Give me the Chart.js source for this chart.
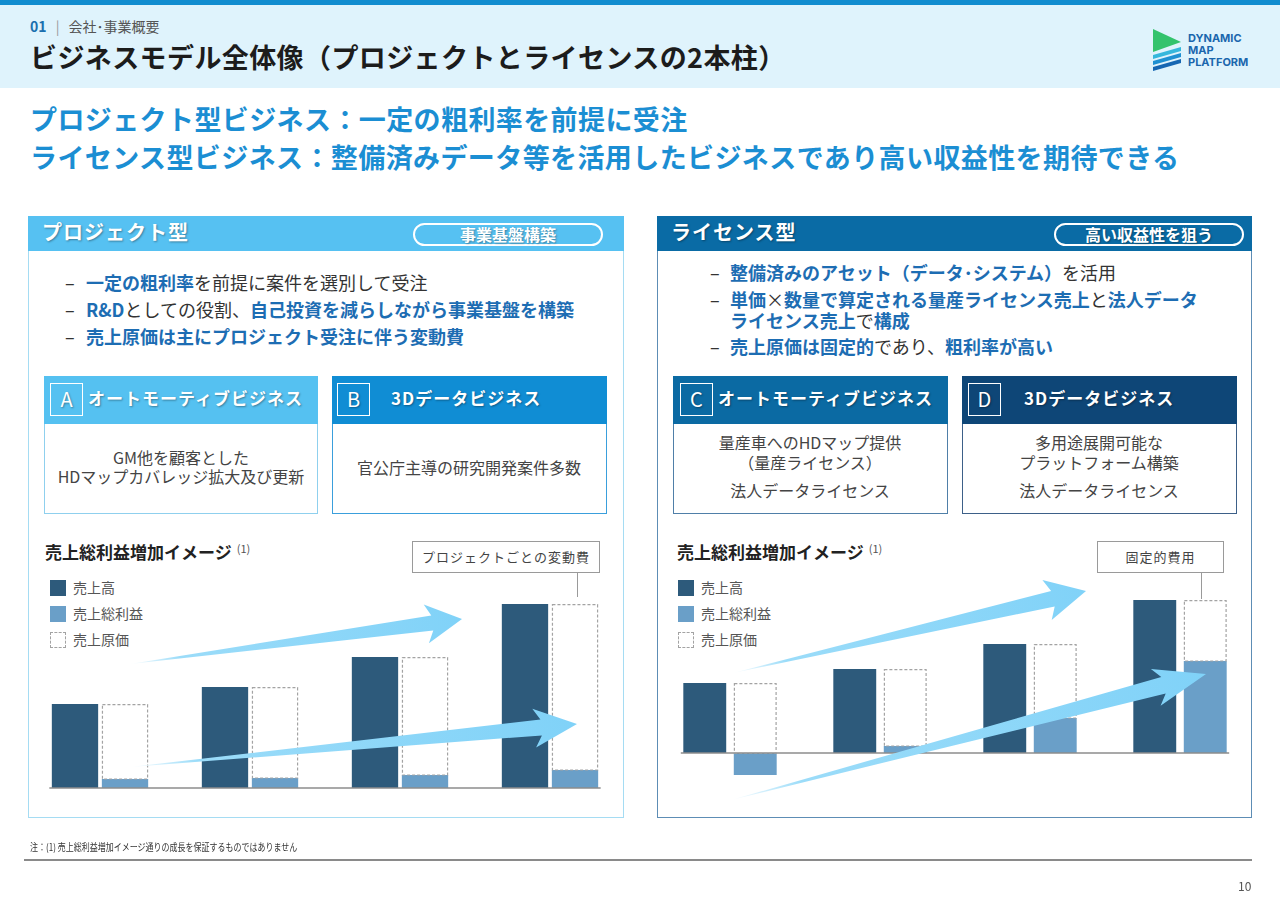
<!DOCTYPE html>
<html lang="ja">
<head>
<meta charset="utf-8">
<title>ビジネスモデル全体像</title>
<script src="https://cdn.jsdelivr.net/npm/chart.js@4.4.0/dist/chart.umd.min.js"></script>
<style>
  html, body { margin: 0; padding: 0; }
  body {
    width: 1280px; height: 904px; position: relative; overflow: hidden; background: #fff;
    font-family: 'Noto Sans CJK JP', 'Noto Sans', sans-serif; color: #333;
  }
  .abs { position: absolute; line-height: 1; white-space: nowrap; }
  .box { position: absolute; box-sizing: border-box; }
  .b { color: #1d6db3; font-weight: 700; }
  .hd { color: #fff; font-weight: 700; text-shadow: 1px 1px 2px rgba(0, 0, 0, 0.35); }
  .pill {
    position: absolute; box-sizing: border-box; height: 23px; border: 2px solid #fff; border-radius: 12px;
    color: #fff; font-weight: 700; font-size: 16px; line-height: 19px; text-align: center;
    text-shadow: 1px 1px 2px rgba(0, 0, 0, 0.35);
  }
  .letter {
    position: absolute; box-sizing: border-box; width: 33px; height: 33px; border: 1.5px solid #fff;
    color: #fff; font-size: 20px; line-height: 30px; text-align: center; top: 383px;
    text-shadow: 1px 1px 2px rgba(0, 0, 0, 0.35);
  }
  .ctitle { font-size: 17px; letter-spacing: 1px; top: 389px; }
  .body { font-size: 16px; color: #444; text-align: center; width: 274px; }
  .legend-item { position: absolute; font-size: 14px; color: #555; line-height: 1; }
  .sw { position: absolute; width: 16px; height: 16px; box-sizing: border-box; }
  .callout {
    position: absolute; box-sizing: border-box; height: 32px; border: 1px solid #9a9a9a; background: #fff;
    font-size: 13px; color: #444; line-height: 30px; text-align: center; letter-spacing: 1px;
  }
  .wrap { position: absolute; width: 600px; height: 200px; }
</style>
</head>
<body>

<!-- header -->
<div class="box" style="left:0;top:0;width:1280px;height:5px;background:#118ccf"></div>
<div class="box" style="left:0;top:5px;width:1280px;height:83px;background:#dff3fc"></div>
<div class="abs" style="left:30px;top:19px;font-size:14px;">
  <span style="color:#1a6fae;font-weight:700">01</span>
  <span style="color:#999;margin:0 6px">|</span>
  <span style="color:#555">会社･事業概要</span>
</div>
<div class="abs" style="left:30px;top:43px;font-size:27px;letter-spacing:0.4px;font-weight:700;color:#1c1c1c">ビジネスモデル全体像（プロジェクトとライセンスの2本柱）</div>

<svg class="abs" style="left:1150px;top:26px" width="110" height="46" viewBox="1150 26 110 46">
  <polygon points="1153,29 1181,42 1153,52" fill="#33c36c"/>
  <polygon points="1153,55 1181,47 1181,51 1153,59" fill="#35b7dc"/>
  <polygon points="1153,61 1181,53 1181,57 1153,65" fill="#1e90d2"/>
  <polygon points="1153,67 1181,59 1181,63 1153,71" fill="#1666b2"/>
  <text x="1188" y="42" font-family="Inter, Lato, sans-serif" font-weight="700" font-size="11" fill="#1a66ad">DYNAMIC</text>
  <text x="1188" y="54" font-family="Inter, Lato, sans-serif" font-weight="700" font-size="11" fill="#1a66ad">MAP</text>
  <text x="1188" y="66" font-family="Inter, Lato, sans-serif" font-weight="700" font-size="11" fill="#1a66ad">PLATFORM</text>
</svg>

<div class="abs" style="left:30px;top:105px;font-size:27px;letter-spacing:0.4px;font-weight:700;color:#1b8ed3">プロジェクト型ビジネス：一定の粗利率を前提に受注</div>
<div class="abs" style="left:30px;top:143px;font-size:27px;letter-spacing:0.4px;font-weight:700;color:#1b8ed3">ライセンス型ビジネス：整備済みデータ等を活用したビジネスであり高い収益性を期待できる</div>

<!-- left panel -->
<div class="box" style="left:28px;top:216px;width:596px;height:602px;border:1.5px solid #a5dcf3"></div>
<div class="box" style="left:28px;top:216px;width:596px;height:35px;background:#56c1f2"></div>
<div class="abs hd" style="left:42px;top:222px;font-size:20px;letter-spacing:1px">プロジェクト型</div>
<div class="pill" style="left:413px;top:223px;width:190px">事業基盤構築</div>

<div class="abs" style="left:65px;top:273px;font-size:18px">–</div>
<div class="abs" style="left:86px;top:273px;font-size:18px"><span class="b">一定の粗利率</span>を前提に案件を選別して受注</div>
<div class="abs" style="left:65px;top:299.5px;font-size:18px">–</div>
<div class="abs" style="left:86px;top:299.5px;font-size:18px"><span class="b">R&amp;D</span>としての役割、<span class="b">自己投資を減らしながら事業基盤を構築</span></div>
<div class="abs" style="left:65px;top:326.5px;font-size:18px">–</div>
<div class="abs" style="left:86px;top:326.5px;font-size:18px"><span class="b">売上原価は主にプロジェクト受注に伴う変動費</span></div>

<div class="box" style="left:44px;top:376px;width:274px;height:138px;border:1.5px solid #8fd0ee"></div>
<div class="box" style="left:44px;top:376px;width:274px;height:48px;background:#55c1f1"></div>
<div class="letter" style="left:50px">A</div>
<div class="abs hd ctitle" style="left:88px">オートモーティブビジネス</div>
<div class="abs body" style="left:44px;top:449px">GM他を顧客とした</div>
<div class="abs body" style="left:44px;top:468px">HDマップカバレッジ拡大及び更新</div>

<div class="box" style="left:332px;top:376px;width:275px;height:138px;border:1.5px solid #3a9fdc"></div>
<div class="box" style="left:332px;top:376px;width:275px;height:48px;background:#108dd4"></div>
<div class="letter" style="left:337px">B</div>
<div class="abs hd ctitle" style="left:391px">3Dデータビジネス</div>
<div class="abs body" style="left:332px;top:459px">官公庁主導の研究開発案件多数</div>

<div class="abs" style="left:45px;top:543px;font-size:17px;font-weight:700;color:#222">売上総利益増加イメージ<span style="font-size:11px;font-weight:400;color:#555;vertical-align:6px;margin-left:5px">(1)</span></div>
<div id="legendLeft"></div>
<div class="callout" style="left:412px;top:541px;width:188px">プロジェクトごとの変動費</div>
<div class="box" style="left:577px;top:573px;width:1px;height:24px;background:#9a9a9a"></div>
<div class="wrap" style="left:25px;top:590px"><canvas id="projectChart"></canvas></div>

<!-- right panel -->
<div class="box" style="left:657px;top:216px;width:595px;height:602px;border:1.5px solid #5d8db5"></div>
<div class="box" style="left:657px;top:216px;width:595px;height:35px;background:#0a6ba5"></div>
<div class="abs hd" style="left:671px;top:222px;font-size:20px;letter-spacing:1px">ライセンス型</div>
<div class="pill" style="left:1054px;top:223px;width:190px">高い収益性を狙う</div>

<div class="abs" style="left:710px;top:263px;font-size:18px">–</div>
<div class="abs" style="left:730px;top:263px;font-size:18px"><span class="b">整備済みのアセット（データ･システム）</span>を活用</div>
<div class="abs" style="left:710px;top:289.5px;font-size:18px">–</div>
<div class="abs" style="left:730px;top:289.5px;font-size:18px"><span class="b">単価</span>×<span class="b">数量で算定される量産ライセンス売上</span>と<span class="b">法人データ</span></div>
<div class="abs" style="left:730px;top:311px;font-size:18px"><span class="b">ライセンス売上</span>で<span class="b">構成</span></div>
<div class="abs" style="left:710px;top:337px;font-size:18px">–</div>
<div class="abs" style="left:730px;top:337px;font-size:18px"><span class="b">売上原価は固定的</span>であり、<span class="b">粗利率が高い</span></div>

<div class="box" style="left:673px;top:376px;width:275px;height:138px;border:1.5px solid #4f7fa8"></div>
<div class="box" style="left:673px;top:376px;width:275px;height:48px;background:#0b6aa3"></div>
<div class="letter" style="left:680px">C</div>
<div class="abs hd ctitle" style="left:718px">オートモーティブビジネス</div>
<div class="abs body" style="left:673px;top:434px">量産車へのHDマップ提供</div>
<div class="abs body" style="left:673px;top:454px">（量産ライセンス）</div>
<div class="abs body" style="left:673px;top:482px">法人データライセンス</div>

<div class="box" style="left:962px;top:376px;width:275px;height:138px;border:1.5px solid #3d6088"></div>
<div class="box" style="left:962px;top:376px;width:275px;height:48px;background:#0e4677"></div>
<div class="letter" style="left:968px">D</div>
<div class="abs hd ctitle" style="left:1024px">3Dデータビジネス</div>
<div class="abs body" style="left:962px;top:434px">多用途展開可能な</div>
<div class="abs body" style="left:962px;top:454px">プラットフォーム構築</div>
<div class="abs body" style="left:962px;top:482px">法人データライセンス</div>

<div class="abs" style="left:677px;top:543px;font-size:17px;font-weight:700;color:#222">売上総利益増加イメージ<span style="font-size:11px;font-weight:400;color:#555;vertical-align:6px;margin-left:5px">(1)</span></div>
<div id="legendRight"></div>
<div class="callout" style="left:1097px;top:541px;width:127px">固定的費用</div>
<div class="box" style="left:1201px;top:573px;width:1px;height:26px;background:#9a9a9a"></div>
<div class="wrap" style="left:655px;top:590px"><canvas id="licenseChart"></canvas></div>

<svg id="arrows" class="abs" style="left:0;top:0;pointer-events:none" width="1280" height="904"></svg>

<!-- footer -->
<div class="abs" style="left:30px;top:842px;font-size:10px;color:#333;transform:scaleX(0.8);transform-origin:left">注：(1) 売上総利益増加イメージ通りの成長を保証するものではありません</div>
<div class="box" style="left:24px;top:859px;width:1228px;height:2px;background:#8a8a8a"></div>
<div class="abs" style="left:1238px;top:880px;font-size:12px;color:#555">10</div>

<script>
const periods = ['1', '2', '3', '4']
const seriesLabels = ['売上高', '売上総利益', '売上原価']

// プロジェクト型 (image units)
const projectSales = [84, 101, 131, 184]
const projectGrossProfit = [9, 10, 13, 18]
const projectCost = [75, 91, 118, 166]

// ライセンス型 (image units)
const licenseSales = [70, 84, 109, 153]
const licenseGrossProfit = [-22, 7, 35, 92]
const licenseCost = [70, 77, 74, 61]

const salesColor = '#2d5a7b'
const profitColor = '#6a9fc8'

const baseline = {
  id: 'baseline',
  afterDatasetsDraw: function (chart, args, options) {
    const { ctx, scales: { y } } = chart
    const first = chart.getDatasetMeta(0).data[0]
    const lastMeta = chart.getDatasetMeta(chart.data.datasets.length - 1)
    const last = lastMeta.data[lastMeta.data.length - 1]
    const yValue = y.getPixelForValue(0)
    ctx.save()
    ctx.beginPath()
    ctx.strokeStyle = options.color
    ctx.lineWidth = options.width
    ctx.moveTo(first.x - first.width / 2 - 2.5, yValue)
    ctx.lineTo(last.x + last.width / 2 + 2.5, yValue)
    ctx.stroke()
    ctx.restore()
  },
}

const dashedOutline = {
  id: 'dashedOutline',
  afterDatasetsDraw: function (chart, args, options) {
    const { ctx } = chart
    chart.data.datasets.forEach((ds, i) => {
      if (!ds.dashed) {
        return
      }
      chart.getDatasetMeta(i).data.forEach((bar) => {
        const top = Math.min(bar.y, bar.base)
        const h = Math.abs(bar.base - bar.y)
        ctx.save()
        ctx.setLineDash([3, 2])
        ctx.strokeStyle = options.color
        ctx.lineWidth = 1.2
        ctx.strokeRect(bar.x - bar.width / 2 + 0.6, top + 0.6, bar.width - 1.2, h - 0.6)
        ctx.restore()
      })
    })
  },
}

Chart.register(baseline, dashedOutline)

function createImageChart(id, sales, profit, cost, yMin, yMax, categoryPercentage, barPercentage) {
  const common = { categoryPercentage, barPercentage, borderWidth: 0 }
  return new Chart(document.getElementById(id), {
    type: 'bar',
    data: {
      labels: periods,
      datasets: [
        { label: seriesLabels[0], data: sales, backgroundColor: salesColor, stack: 'sales', ...common },
        { label: seriesLabels[1], data: profit, backgroundColor: profitColor, stack: 'gp', ...common },
        { label: seriesLabels[2], data: cost, backgroundColor: '#ffffff', stack: 'gp', dashed: true, ...common },
      ],
    },
    options: {
      responsive: true,
      maintainAspectRatio: false,
      animation: false,
      layout: { padding: 0 },
      plugins: {
        legend: { display: false },
        tooltip: { enabled: false },
        baseline: { color: '#8c8c8c', width: 1.5 },
        dashedOutline: { color: '#a3a3a3' },
      },
      scales: {
        x: { stacked: true, display: false },
        y: { stacked: true, display: false, min: yMin, max: yMax },
      },
    },
  })
}

createImageChart('projectChart', projectSales, projectGrossProfit, projectCost, -2, 198, 0.667, 0.926)
createImageChart('licenseChart', licenseSales, licenseGrossProfit, licenseCost, -37, 163, 0.673, 0.85)

// html legends
function buildLegend(id, left) {
  const el = document.getElementById(id)
  const swatches = [
    'background:' + salesColor,
    'background:' + profitColor,
    'border:1px dashed #a3a3a3;background:#fff',
  ]
  const tops = [580, 606, 632]
  el.innerHTML = seriesLabels.map((label, i) =>
    '<div class="sw" style="left:' + left + 'px;top:' + tops[i] + 'px;' + swatches[i] + '"></div>' +
    '<div class="legend-item" style="left:' + (left + 23) + 'px;top:' + tops[i] + 'px">' + label + '</div>'
  ).join('')
}
buildLegend('legendLeft', 50)
buildLegend('legendRight', 678)

// decorative growth arrows
const arrowShapes = [
  { tail: [130, 664], tip: [462, 619], shaft: 15, head: 39, len: 30, sweep: 6 },
  { tail: [130, 767], tip: [577, 724], shaft: 16, head: 39, len: 36, sweep: 7 },
  { tail: [733, 673], tip: [1086, 591], shaft: 16, head: 41, len: 34, sweep: 6 },
  { tail: [731, 800], tip: [1206, 674], shaft: 17, head: 38, len: 44, sweep: 8 },
]
const svg = document.getElementById('arrows')
let defs = '<defs>'
let shapes = ''
arrowShapes.forEach((a, i) => {
  const [tx, ty] = a.tail
  const [px, py] = a.tip
  const d = Math.hypot(px - tx, py - ty)
  const ux = (px - tx) / d
  const uy = (py - ty) / d
  const nx = -uy
  const ny = ux
  const bx = px - ux * a.len
  const by = py - uy * a.len
  const pt = (x, y) => x.toFixed(1) + ',' + y.toFixed(1)
  const pts = [
    pt(tx, ty),
    pt(bx + nx * a.shaft / 2, by + ny * a.shaft / 2),
    pt(bx - ux * a.sweep + nx * a.head / 2, by - uy * a.sweep + ny * a.head / 2),
    pt(px, py),
    pt(bx - ux * a.sweep - nx * a.head / 2, by - uy * a.sweep - ny * a.head / 2),
    pt(bx - nx * a.shaft / 2, by - ny * a.shaft / 2),
  ].join(' ')
  defs += '<linearGradient id="ag' + i + '" gradientUnits="userSpaceOnUse" x1="' + tx + '" y1="' + ty + '" x2="' + px + '" y2="' + py + '">' +
    '<stop offset="0" stop-color="#ffffff"/><stop offset="0.15" stop-color="#9bdcf9"/><stop offset="1" stop-color="#80d2f8"/></linearGradient>'
  shapes += '<polygon points="' + pts + '" fill="url(#ag' + i + ')"/>'
})
svg.innerHTML = defs + '</defs>' + shapes
</script>
</body>
</html>
